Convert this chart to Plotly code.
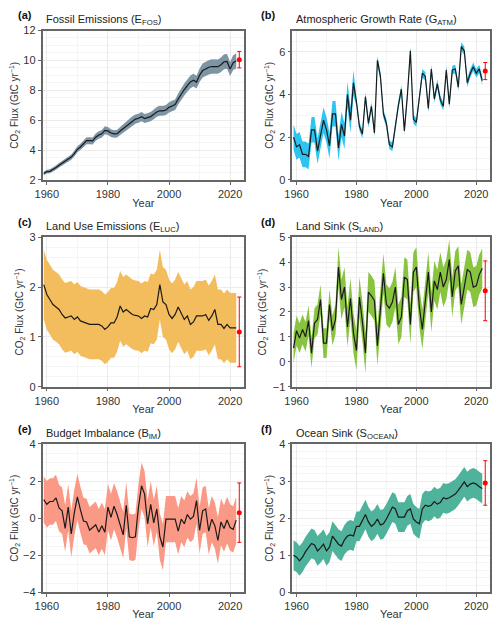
import plotly.graph_objects as go

years = list(range(1959, 2023))

efos = [2.43,2.56,2.58,2.68,2.83,2.99,3.12,3.27,3.36,3.53,3.76,4.05,4.21,4.40,4.63,4.63,4.61,4.86,5.01,5.09,5.32,5.28,5.14,5.08,5.10,5.28,5.45,5.58,5.73,5.96,6.07,6.13,6.24,6.11,6.15,6.24,6.39,6.55,6.63,6.62,6.68,6.86,6.95,7.04,7.42,7.77,8.05,8.31,8.56,8.68,8.55,9.01,9.32,9.43,9.54,9.59,9.58,9.58,9.71,9.91,9.93,9.42,9.85,9.96]
efos_unc = [round(v*0.05, 3) for v in efos]

gatm = [2.0,1.55,1.65,1.2,1.2,1.1,2.35,2.35,1.35,2.05,2.8,2.35,1.6,3.1,3.1,1.5,2.6,2.05,4.0,2.8,4.55,3.65,2.5,2.15,3.9,2.65,3.45,2.2,5.6,4.85,3.1,2.65,1.65,1.55,2.65,3.5,4.25,2.3,3.95,6.05,2.85,2.7,3.85,5.0,4.85,3.35,5.2,3.8,4.5,3.75,3.45,5.15,3.55,5.15,5.2,4.35,6.25,6.05,4.55,5.0,5.3,5.0,5.2,4.65]
gatm_unc = [0.6]*21 + [0.2]*43

eluc = [2.05,1.85,1.75,1.65,1.6,1.55,1.45,1.38,1.4,1.42,1.35,1.4,1.32,1.3,1.28,1.25,1.25,1.25,1.25,1.22,1.15,1.2,1.28,1.28,1.4,1.62,1.5,1.55,1.5,1.45,1.43,1.42,1.37,1.42,1.4,1.57,1.55,1.65,2.05,1.7,1.65,1.45,1.37,1.45,1.6,1.48,1.35,1.42,1.25,1.3,1.42,1.42,1.42,1.45,1.33,1.42,1.55,1.25,1.25,1.17,1.25,1.18,1.18,1.18]
eluc_unc = [0.7]*64

sland = [0.55,1.25,0.95,1.3,1.0,1.65,0.35,1.55,1.7,2.5,0.75,0.75,2.3,1.25,1.7,3.8,2.5,3.0,1.4,2.55,1.15,0.45,2.6,1.6,0.35,2.8,2.65,2.45,0.65,2.0,3.55,2.3,2.15,2.4,3.0,1.5,1.8,3.4,3.3,1.5,3.6,3.8,2.2,1.3,2.6,3.6,2.0,3.25,2.9,3.6,3.0,3.3,4.1,2.6,3.65,3.85,2.3,3.05,3.7,3.6,3.0,3.05,3.5,3.75]
sland_unc = [0.6]*15 + [0.8]*49

bim = [1.0,0.75,0.9,0.9,1.1,0.55,0.4,-0.55,0.6,-0.85,0.3,1.15,0.45,-0.15,-0.2,-0.65,-0.5,-0.35,-0.75,-0.4,-0.75,0.6,0.05,0.65,0.2,-0.3,-0.9,0.7,-1.0,-1.05,-1.0,0.6,1.75,1.3,-0.3,0.75,-0.25,0.5,-1.0,-1.55,-0.05,-0.05,-0.05,-0.05,-0.7,-0.05,-0.3,0.2,-0.05,0.1,0.95,-0.65,0.4,0.5,-0.7,-0.05,-0.4,-1.2,-0.2,-0.55,-0.1,-0.5,-0.6,-0.1]
bim_unc = [1.25]*64

socean = [1.0,0.95,0.85,0.95,1.1,1.2,1.32,1.28,1.12,1.2,1.3,1.12,1.22,1.52,1.4,1.3,1.25,1.42,1.52,1.55,1.52,1.78,1.78,1.95,2.1,1.9,1.78,1.85,1.98,1.82,1.85,1.98,2.15,2.3,2.25,2.03,2.03,2.03,2.2,2.25,1.98,1.9,1.85,2.25,2.35,2.32,2.35,2.45,2.38,2.42,2.55,2.52,2.55,2.6,2.65,2.75,2.85,2.98,2.85,2.92,2.95,2.92,2.85,2.8]
socean_unc = [0.4]*64

proj_year = 2023
proj_vals = [10.05, 5.1, 1.1, 2.85, 0.3, 2.95]
proj_unc = [0.55, 0.4, 0.7, 1.2, 1.6, 0.6]

letters = ["(a)","(b)","(c)","(d)","(e)","(f)"]
titles = ["Fossil Emissions (E<sub>FOS</sub>)","Atmospheric Growth Rate (G<sub>ATM</sub>)",
          "Land Use Emissions (E<sub>LUC</sub>)","Land Sink (S<sub>LAND</sub>)",
          "Budget Imbalance (B<sub>IM</sub>)","Ocean Sink (S<sub>OCEAN</sub>)"]
series = [efos,gatm,eluc,sland,bim,socean]
uncs = [efos_unc,gatm_unc,eluc_unc,sland_unc,bim_unc,socean_unc]
colors = ["#7d95a5","#2ec4f2","#f3bc5c","#88c43f","#fa9a86","#4fb29a"]
yranges = [[2,12],[0,7],[0,3],[-1,5],[-4,4],[0,4]]
ydticks = [2,2,1,1,2,1]

W, H = 484, 612
xdom = [[27/W, 232/W], [281/W, 482/W]]
ydom = [[1-171/H, 1-17/H], [1-384/H, 1-230/H], [1-596/H, 1-443/H]]
letter_x = [0.0, 247/W]

fig = go.Figure()
ann = []
for i in range(6):
    r, c = divmod(i, 2)
    n = "" if i == 0 else str(i+1)
    xa, ya = "x"+n, "y"+n
    lo = [v-u for v,u in zip(series[i],uncs[i])]
    hi = [v+u for v,u in zip(series[i],uncs[i])]
    fig.add_trace(go.Scatter(x=years, y=lo, mode="lines", line=dict(width=0), xaxis=xa, yaxis=ya, showlegend=False, hoverinfo="skip"))
    fig.add_trace(go.Scatter(x=years, y=hi, mode="lines", line=dict(width=0), fill="tonexty", fillcolor=colors[i], xaxis=xa, yaxis=ya, showlegend=False, hoverinfo="skip"))
    fig.add_trace(go.Scatter(x=years, y=series[i], mode="lines", line=dict(color="#1a1a1a", width=1.2), xaxis=xa, yaxis=ya, showlegend=False))
    fig.add_trace(go.Scatter(x=[proj_year], y=[proj_vals[i]], mode="markers", marker=dict(color="red", size=5),
                             error_y=dict(type="data", array=[proj_unc[i]], color="red", thickness=1, width=2),
                             xaxis=xa, yaxis=ya, showlegend=False))
    axk = "xaxis"+n; ayk = "yaxis"+n
    fig.layout[axk] = dict(domain=xdom[c], anchor=ya, range=[1958.6, 2024.6], tickvals=[1960,1980,2000,2020],
                           showgrid=True, gridcolor="#ebebeb", minor=dict(showgrid=True, gridcolor="#f5f5f5", dtick=10),
                           showline=True, linecolor="#666", linewidth=1.5, mirror=True, ticks="outside", ticklen=3,
                           tickcolor="#666", tickfont=dict(size=11, color="#333"), zeroline=False,
                           title=dict(text="Year", font=dict(size=11, color="#333"), standoff=0))
    fig.layout[ayk] = dict(domain=ydom[r], anchor=xa, range=yranges[i], dtick=ydticks[i],
                           showgrid=True, gridcolor="#ebebeb", minor=dict(showgrid=True, gridcolor="#f5f5f5"),
                           showline=True, linecolor="#666", linewidth=1.5, mirror=True, ticks="outside", ticklen=3,
                           tickcolor="#666", tickfont=dict(size=11, color="#333"), zeroline=False,
                           title=dict(text="CO<sub>2</sub> Flux (GtC yr<sup>−1</sup>)", font=dict(size=10, color="#333"), standoff=4))
    ann.append(dict(text="<b>"+letters[i]+"</b>", x=letter_x[c], y=ydom[r][1]+0.012, xref="paper", yref="paper",
                    xanchor="left", yanchor="bottom", showarrow=False, font=dict(size=11, color="#111")))
    ann.append(dict(text=titles[i], x=xdom[c][0]+0.003, y=ydom[r][1]+0.002, xref="paper", yref="paper",
                    xanchor="left", yanchor="bottom", showarrow=False, font=dict(size=11, color="#222")))

fig.update_layout(width=W, height=H, margin=dict(l=0, r=0, t=0, b=0), plot_bgcolor="white", paper_bgcolor="white",
                  annotations=ann, font=dict(family="Liberation Sans, Arial, sans-serif"))
fig.write_html("out.html")
